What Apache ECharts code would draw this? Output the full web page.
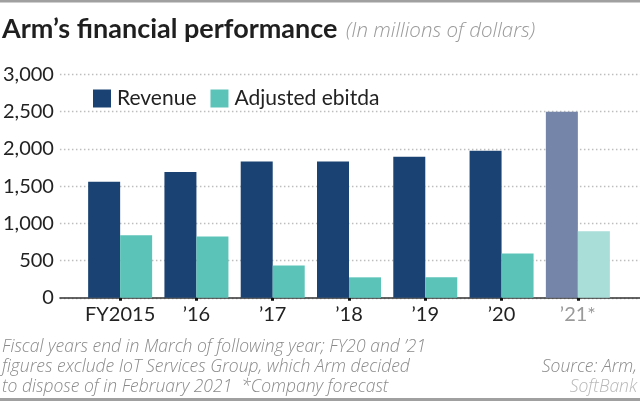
<!DOCTYPE html>
<html>
<head>
<meta charset="utf-8">
<script src="https://cdn.jsdelivr.net/npm/echarts@6/dist/echarts.min.js"></script>
<style>
  html, body { margin: 0; padding: 0; background: #fff; }
  #chart { width: 640px; height: 405px; }
</style>
</head>
<body>
<div id="chart"></div>
<script>
  // data (millions of dollars)
  const years = ["FY2015", "\u201916", "\u201917", "\u201918", "\u201919", "\u201920", "\u201921*"];
  const revenue = [1560, 1690, 1830, 1830, 1895, 1975, 2500];
  const ebitda = [840, 825, 435, 275, 275, 595, 895];
  const yTicks = [0, 500, 1000, 1500, 2000, 2500, 3000];
  const notes = [
    "Fiscal years end in March of following year; FY20 and \u201921",
    "figures exclude IoT Services Group, which Arm decided",
    "to dispose of in February 2021  *Company forecast"
  ];

  const NAVY = "#1a4373", TEAL = "#5cc3b9";
  const NAVY_FC = "#7485a9", TEAL_FC = "#a9ddd7";
  const FONT = "Lato", NOTE_FONT = "Open Sans";

  // last year is a forecast, drawn lighter
  const withForecast = (arr, light) =>
    arr.map((v, i) => i === arr.length - 1 ? { value: v, itemStyle: { color: light } } : v);

  const noteText = (txt, y, extra) => ({
    type: "text", x: 2, y: y,
    style: Object.assign({
      text: txt, font: "italic 300 17.5px '" + NOTE_FONT + "'",
      fill: "#8a8a8a", textVerticalAlign: "middle", verticalAlign: "middle"
    }, extra || {})
  });

  const chart = echarts.init(document.getElementById("chart"), null, { renderer: "canvas" });

  chart.setOption({
    animation: false,
    textStyle: { fontFamily: FONT },
    legend: {
      left: 88, top: 83,
      icon: "rect", itemWidth: 18, itemHeight: 18, itemGap: 14,
      textStyle: { fontFamily: FONT, fontSize: 21, color: "#222", padding: [0, 0, 0, 1] },
      data: ["Revenue", "Adjusted ebitda"]
    },
    grid: [
      { left: 58, right: 0, top: 74.5, height: 223.3 },
      { left: 82, width: 534, top: 74.5, height: 223.3 }
    ],
    xAxis: [
      {
        gridIndex: 0, type: "value", min: 0, max: 1,
        axisLine: { show: true, lineStyle: { color: "#333", width: 1.5 } },
        axisTick: { show: false }, axisLabel: { show: false }, splitLine: { show: false }
      },
      {
        gridIndex: 1, type: "category", data: years,
        axisLine: { show: false },
        axisTick: { show: true, alignWithLabel: true, length: 3, lineStyle: { color: "#111", width: 3 } },
        axisLabel: {
          interval: 0, margin: 7, fontFamily: FONT, fontSize: 20,
          color: (v, i) => i === years.length - 1 ? "#9a9a9a" : "#222"
        }
      }
    ],
    yAxis: [
      {
        gridIndex: 0, type: "value", min: yTicks[0], max: yTicks[yTicks.length - 1], interval: 500,
        axisLine: { show: false }, axisTick: { show: false },
        axisLabel: {
          margin: 6, fontFamily: FONT, fontSize: 20, color: "#222",
          formatter: v => v.toLocaleString("en-US")
        },
        splitLine: { show: true, lineStyle: { color: "#bdbdbd", type: [1.5, 2.5], width: 1.3 } }
      },
      {
        gridIndex: 1, type: "value", min: 0, max: 3000, interval: 500, show: false,
        splitLine: { show: false }
      }
    ],
    series: [
      {
        name: "Revenue", type: "bar", xAxisIndex: 1, yAxisIndex: 1,
        barWidth: 32, barGap: "0%",
        itemStyle: { color: NAVY },
        data: withForecast(revenue, NAVY_FC)
      },
      {
        name: "Adjusted ebitda", type: "bar", xAxisIndex: 1, yAxisIndex: 1,
        barWidth: 32, barGap: "0%",
        itemStyle: { color: TEAL },
        data: withForecast(ebitda, TEAL_FC)
      }
    ],
    graphic: [
      // frame rules at top and bottom
      { type: "rect", shape: { x: 0, y: 0, width: 640, height: 2.5 }, style: { fill: "#a0a0a0" } },
      { type: "rect", shape: { x: 0, y: 398, width: 640, height: 3 }, style: { fill: "#a0a0a0" } },
      // headline
      {
        type: "text", x: 2, y: 29,
        style: { text: "Arm\u2019s financial performance", font: "bold 27px Lato", fill: "#1f1f1f", verticalAlign: "middle" }
      },
      {
        type: "text", x: 346, y: 31,
        style: { text: "(In millions of dollars)", font: "italic 300 20.5px '" + NOTE_FONT + "'", fill: "#9a9a9a", verticalAlign: "middle" }
      },
      // footnote
      noteText(notes[0], 347),
      noteText(notes[1], 367),
      noteText(notes[2], 387),
      noteText("Source: Arm,", 367, { align: "right" , x: 0 }),
      noteText("SoftBank", 387, { align: "right", fill: "#b8b8b8" })
    ].map(g => {
      // right-aligned source lines sit at the right margin
      if (g.type === "text" && g.style.align === "right") { g.x = 637; }
      return g;
    })
  });
</script>
</body>
</html>
